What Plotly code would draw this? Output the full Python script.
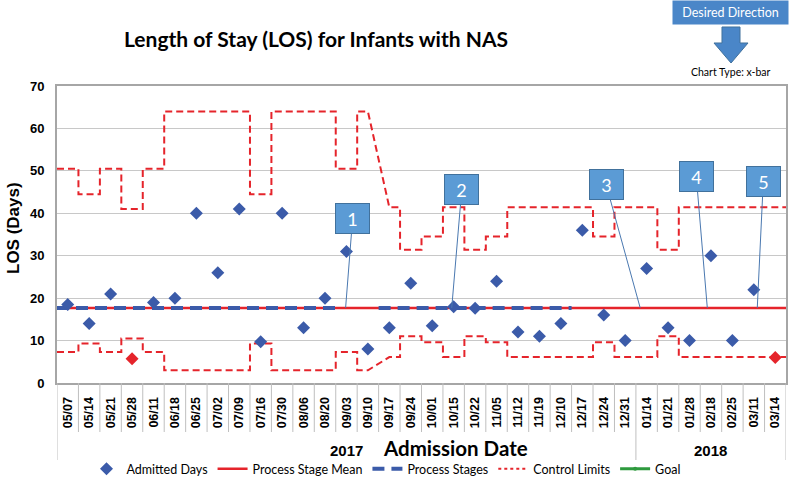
import plotly.graph_objects as go

# ---------------- data ----------------
dates = ["05/07", "05/14", "05/21", "05/28", "06/11", "06/18", "06/25", "07/02", "07/09",
         "07/16", "07/30", "08/06", "08/20", "09/03", "09/10", "09/17", "09/24", "10/01",
         "10/15", "10/22", "11/05", "11/12", "11/19", "12/10", "12/17", "12/24", "12/31",
         "01/14", "01/21", "01/28", "02/18", "02/25", "03/11", "03/14"]
years = ["2017"] * 27 + ["2018"] * 7

admitted_days = [18.5, 14, 21, 5.7, 19, 20, 40, 26, 41, 9.7, 40, 13, 20, 31, 8, 13, 23.5,
                 13.5, 18, 17.6, 24, 12, 11, 14, 36, 16, 10, 27, 13, 10, 30, 10, 22, 6.0]

ucl = [50.5, 44.5, 50.5, 41, 50.5, 64, 64, 64, 64, 44.5, 64, 64, 64, 50.5, 64, 41.4,
       31.4, 34.5, 41.4, 31.4, 34.5, 41.4, 41.4, 41.4, 41.4, 34.5, 41.4, 41.4, 31.4,
       41.4, 41.4, 41.4, 41.4, 41.4]
lcl = [7.3, 9.3, 7.3, 10.5, 7.3, 3, 3, 3, 3, 9.3, 3, 3, 3, 7.3, 3, 6.1,
       11, 9.6, 6.1, 11, 9.6, 6.1, 6.1, 6.1, 6.1, 9.6, 6.1, 6.1, 11,
       6.1, 6.1, 6.1, 6.1, 6.1]
process_mean = [17.7] * 34
process_stages = [17.7] * 13 + [None] * 2 + [17.7] * 9 + [None] * 10
sloped_transition = ("09/10", "09/17")

callout_labels = ["1", "2", "3", "4", "5"]
callout_at = [12.96, 17.91, 26.7, 29.83, 32.16]          # position along the date axis
callout_offsets = [(7, -89), (10, -118), (-34, -123), (-11, -131), (6, -126)]

# ---------------- helpers ----------------
n = len(dates)
idx = list(range(n))
s_from, s_to = dates.index(sloped_transition[0]), dates.index(sloped_transition[1])


def step_xy(vals, slopes=((s_from, s_to),)):
    xs, ys = [], []
    for i, v in enumerate(vals):
        if v is None:
            xs.append(None); ys.append(None); continue
        left = i if any(b == i for a, b in slopes) else i - 0.5
        right = i if any(a == i for a, b in slopes) else i + 0.5
        xs += [left, right]; ys += [v, v]
    return xs, ys


# plot area in screen pixels
L, R, T, B = 57, 786, 86, 383
W, H = 800, 483


def px(x):
    return (x - L) / (R - L)


def py(y):
    return (B - y) / (B - T)


RED = "#E5242B"
BLUE = "#3B5BA9"
BOX = "#5B9BD5"
CAL = "Lato, Noto Sans, sans-serif"
ARIAL = "Liberation Sans, Arial, sans-serif"
NARROW = "Liberation Sans Narrow, Arial Narrow, Liberation Sans, sans-serif"

fig = go.Figure()

# control limits
for vals in (ucl, lcl):
    xs, ys = step_xy(vals)
    fig.add_trace(go.Scatter(x=xs, y=ys, mode="lines", showlegend=False, hoverinfo="skip",
                             line=dict(color=RED, width=2, dash="7px,4px")))

# process stage mean
xs, ys = step_xy(process_mean, slopes=())
fig.add_trace(go.Scatter(x=xs, y=ys, mode="lines", name="Process Stage Mean", legendrank=2,
                         line=dict(color=RED, width=2.5)))

# process stages
xs, ys = step_xy(process_stages, slopes=())
fig.add_trace(go.Scatter(x=xs, y=ys, mode="lines", name="Process Stages", legendrank=3,
                         line=dict(color=BLUE, width=4, dash="12px,7px")))

# legend-only entries
fig.add_trace(go.Scatter(x=[None], y=[None], mode="lines", name="Control Limits", legendrank=4,
                         line=dict(color=RED, width=2, dash="dot")))
fig.add_trace(go.Scatter(x=[None], y=[None], mode="lines+markers", name="Goal", legendrank=5,
                         line=dict(color="#2E9A3E", width=3),
                         marker=dict(color="#2E9A3E", size=4)))

# admitted days (red when outside control limits)
colors = [RED if (v < lo or v > hi) else BLUE for v, lo, hi in zip(admitted_days, lcl, ucl)]
fig.add_trace(go.Scatter(x=idx, y=admitted_days, mode="markers", name="Admitted Days", legendrank=1,
                         marker=dict(symbol="diamond", size=10, color=colors,
                                     line=dict(width=0))))

# category separators below the axis
shapes = []
for i in range(n + 1):
    b = i - 0.5
    is_long = i == 0 or i == n or (0 < i < n and years[i] != years[i - 1])
    shapes.append(dict(type="line", xref="x", yref="paper", x0=b, x1=b, y0=0,
                       y1=py(460) if is_long else py(432),
                       line=dict(color="#BFBFBF", width=1)))

annotations = []
# y title
annotations.append(dict(x=px(13), y=py(228), xref="paper", yref="paper", text="LOS (Days)",
                        textangle=-90, showarrow=False, xanchor="center", yanchor="middle",
                        font=dict(family=ARIAL, size=17, color="black", weight="bold")))
# year labels
for yr in dict.fromkeys(years):
    pos = [i for i, y in enumerate(years) if y == yr]
    annotations.append(dict(x=(pos[0] + pos[-1]) / 2, y=py(450), xref="x", yref="paper",
                            text=yr, showarrow=False, xanchor="center", yanchor="middle",
                            font=dict(family=NARROW, size=15, color="black", weight="bold")))
# x title
annotations.append(dict(x=px(455), y=py(448), xref="paper", yref="paper", text="Admission Date",
                        showarrow=False, xanchor="center", yanchor="middle",
                        font=dict(family=CAL, size=20.5, color="black", weight="bold")))
# callouts
for lab, xc, (ax, ay) in zip(callout_labels, callout_at, callout_offsets):
    annotations.append(dict(x=xc, y=process_mean[0], xref="x", yref="y", ax=ax, ay=ay,
                            text=lab, showarrow=True, arrowhead=0, arrowwidth=1,
                            arrowcolor="#4A78B0", bgcolor=BOX, bordercolor="#41719C",
                            borderwidth=1, width=31, height=27,
                            font=dict(family=CAL, size=18, color="white")))
# desired direction box
annotations.append(dict(x=px(730.5), y=py(12), xref="paper", yref="paper", text="Desired Direction",
                        showarrow=False, xanchor="center", yanchor="middle",
                        bgcolor="#4A86C8", width=113, height=21,
                        font=dict(family=CAL, size=12.5, color="white")))
annotations.append(dict(x=px(731), y=py(72), xref="paper", yref="paper", text="Chart Type: x-bar",
                        showarrow=False, xanchor="center", yanchor="middle",
                        font=dict(family=CAL, size=10.5, color="black")))

# down arrow
pts = [(722, 27), (740, 27), (740, 43), (748, 43), (731, 63), (714, 43), (722, 43)]
path = "M " + " L ".join(f"{px(x):.4f},{py(y):.4f}" for x, y in pts) + " Z"
shapes.append(dict(type="path", xref="paper", yref="paper", path=path,
                   fillcolor="#4A86C8", line=dict(color="#41719C", width=1)))

fig.update_layout(
    width=W, height=H,
    margin=dict(l=L, r=W - R, t=T, b=H - B, autoexpand=False),
    plot_bgcolor="white", paper_bgcolor="white",
    title=dict(text="Length of Stay (LOS) for Infants with NAS", x=316 / W,
               xanchor="center", y=1 - 40 / H, yanchor="middle",
               font=dict(family=CAL, size=21, color="black", weight="bold")),
    xaxis=dict(range=[-0.5, n - 0.5], tickmode="array", tickvals=idx, ticktext=dates,
               tickangle=-90, ticks="", ticklabelstandoff=7, automargin=False,
               tickfont=dict(family=ARIAL, size=12.5, color="black", weight="bold"),
               showgrid=False, zeroline=False, showline=True, linecolor="#A6A6A6",
               linewidth=2, mirror=True),
    yaxis=dict(range=[0, 70], dtick=10, ticks="", ticklabelstandoff=8, automargin=False,
               tickfont=dict(family=ARIAL, size=13, color="black", weight="bold"),
               gridcolor="#C8C8C8", gridwidth=1, zeroline=False, showline=True,
               linecolor="#A6A6A6", linewidth=2, mirror=True),
    legend=dict(orientation="h", x=px(386), xanchor="center", y=py(469), yanchor="middle",
                font=dict(family=CAL, size=12.5, color="black"), bgcolor="rgba(0,0,0,0)",
                traceorder="normal", itemwidth=30),
    shapes=shapes, annotations=annotations,
)

# remove the browser's default page margin so the figure sits at the window origin
fig.write_html("out.html", config={"displayModeBar": False},
               post_script="document.body.style.margin='0';document.body.style.overflow='hidden';")
